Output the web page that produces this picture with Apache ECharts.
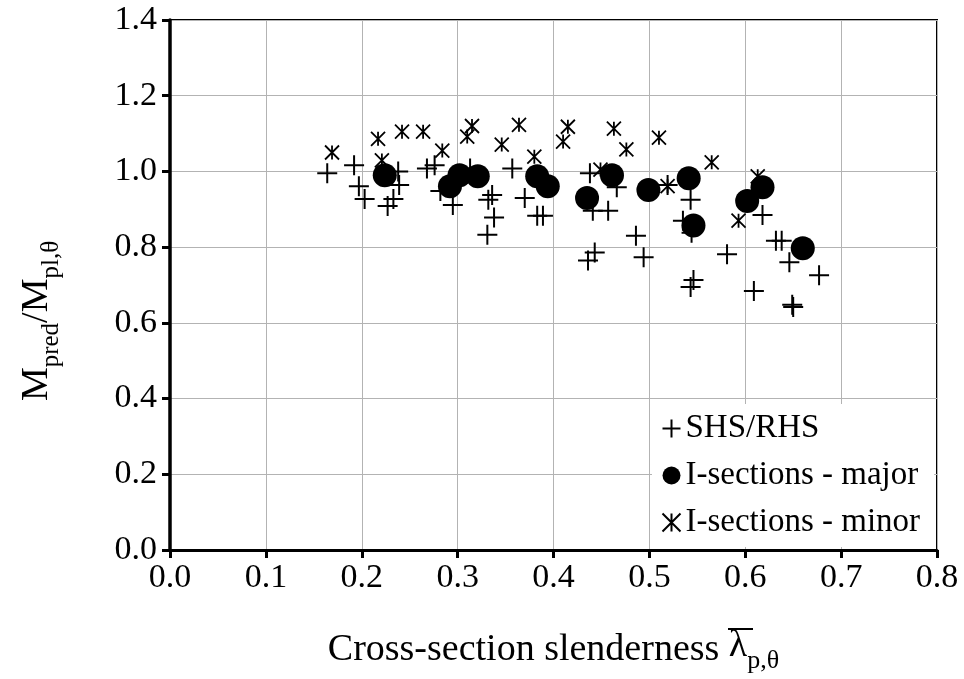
<!DOCTYPE html>
<html>
<head>
<meta charset="utf-8">
<script src="https://cdn.jsdelivr.net/npm/echarts@6/dist/echarts.min.js"></script>
<style>html,body{margin:0;padding:0;background:#fff}#c{width:964px;height:679px}</style>
</head>
<body>
<div id="c"></div>
<script>
// SHS/RHS : [slenderness, Mpred/Mpl]
const shsRhs = [
  [0.164,0.995],[0.192,1.016],[0.197,0.961],[0.203,0.927],[0.227,0.909],[0.233,0.927],
  [0.239,0.964],[0.238,1.000],[0.268,1.008],[0.276,1.016],[0.282,0.948],[0.295,0.911],
  [0.313,1.008],[0.336,0.938],[0.332,0.925],[0.338,0.878],[0.331,0.833],[0.357,1.008],
  [0.370,0.930],[0.383,0.883],[0.389,0.883],[0.438,0.995],[0.466,0.958],[0.441,0.896],
  [0.457,0.896],[0.443,0.786],[0.436,0.765],[0.486,0.830],[0.494,0.773],[0.519,0.964],
  [0.543,0.925],[0.535,0.870],[0.544,0.838],[0.546,0.713],[0.543,0.695],[0.581,0.781],
  [0.618,0.885],[0.632,0.817],[0.638,0.817],[0.646,0.760],[0.609,0.684],[0.677,0.726],
  [0.649,0.648],[0.650,0.642]
];
const iMajor = [
  [0.224,0.990],[0.292,0.961],[0.302,0.990],[0.321,0.987],[0.383,0.987],[0.394,0.961],
  [0.435,0.930],[0.461,0.990],[0.499,0.951],[0.541,0.982],[0.546,0.857],[0.602,0.922],
  [0.618,0.958],[0.660,0.797]
];
const iMinor = [
  [0.169,1.050],[0.217,1.086],[0.242,1.105],[0.264,1.105],[0.221,1.029],[0.284,1.055],
  [0.315,1.120],[0.310,1.092],[0.364,1.123],[0.346,1.071],[0.380,1.039],[0.415,1.118],
  [0.410,1.079],[0.463,1.113],[0.476,1.058],[0.510,1.089],[0.449,1.005],[0.565,1.024],
  [0.519,0.961],[0.613,0.987],[0.593,0.870]
];
const seriesNames = ['SHS/RHS','I-sections - major','I-sections - minor'];
const xTicks = {min:0, max:0.8, interval:0.1};
const yTicks = {min:0, max:1.4, interval:0.2};

const FONT = '"Liberation Serif","Times New Roman",serif';
const plusPath = 'path://M10,0L10,20M0,10L20,10';
const starPath = 'path://M0,0L20,20M20,0L0,20M10,0L10,20';

const chart = echarts.init(document.getElementById('c'));
chart.setOption({
  backgroundColor:'#fff',
  animation:false,
  grid:{left:170,right:27,top:20,bottom:123,show:true,borderColor:'#000',borderWidth:2,backgroundColor:'transparent'},
  xAxis:{
    type:'value', min:xTicks.min, max:xTicks.max, interval:xTicks.interval,
    name:'Cross-section slenderness {l|λ}{s|p,θ}',
    nameLocation:'middle', nameGap:77,
    nameTextStyle:{color:'#000',fontFamily:FONT,fontSize:38,
      rich:{l:{fontFamily:FONT,fontSize:38,color:'#000',verticalAlign:'top'},
            s:{fontFamily:FONT,fontSize:26,color:'#000',verticalAlign:'top',padding:[21,0,0,0]}}},
    axisLine:{show:true,lineStyle:{color:'#000',width:3}},
    axisTick:{show:true,inside:false,length:8,lineStyle:{color:'#000',width:3}},
    axisLabel:{color:'#000',fontFamily:FONT,fontSize:34,margin:11,formatter:v=>v.toFixed(1)},
    splitLine:{show:true,lineStyle:{color:'#b3b3b3',width:1}}
  },
  yAxis:{
    type:'value', min:yTicks.min, max:yTicks.max, interval:yTicks.interval,
    name:'{m|M}{s|pred}{m|/M}{s|pl,θ}',
    nameLocation:'middle', nameGap:106,
    nameTextStyle:{color:'#000',fontFamily:FONT,fontSize:38,padding:[0,72,0,0],
      rich:{m:{fontFamily:FONT,fontSize:38,color:'#000',verticalAlign:'top'},
            s:{fontFamily:FONT,fontSize:25,color:'#000',verticalAlign:'top',padding:[21,0,0,0]}}},
    axisLine:{show:true,lineStyle:{color:'#000',width:3.5}},
    axisTick:{show:true,inside:false,length:8,lineStyle:{color:'#000',width:3}},
    axisLabel:{color:'#000',fontFamily:FONT,fontSize:34,margin:13,formatter:v=>v.toFixed(1)},
    splitLine:{show:true,lineStyle:{color:'#b3b3b3',width:1}}
  },
  legend:{
    orient:'vertical', left:652, top:404,
    backgroundColor:'#fff', padding:[8,14,8,8], itemGap:14,
    itemWidth:18, itemHeight:18,
    data:seriesNames,
    textStyle:{color:'#000',fontFamily:FONT,fontSize:33,lineHeight:33}
  },
  graphic:[
    {type:'line', id:'overline', shape:{x1:728,y1:629,x2:753,y2:629}, style:{stroke:'#000',lineWidth:2}, z:10}
  ],
  series:[
    {name:seriesNames[0], type:'scatter', data:shsRhs, symbol:plusPath, symbolSize:20, z:2,
     itemStyle:{color:'none',borderColor:'#000',borderWidth:2,opacity:1}},
    {name:seriesNames[2], type:'scatter', data:iMinor, symbol:starPath, symbolSize:14, z:3,
     itemStyle:{color:'none',borderColor:'#000',borderWidth:1.8,opacity:1}},
    {name:seriesNames[1], type:'scatter', data:iMajor, symbol:'circle', symbolSize:24, z:4,
     itemStyle:{color:'#000',borderWidth:0,opacity:1}}
  ]
});
</script>
</body>
</html>
